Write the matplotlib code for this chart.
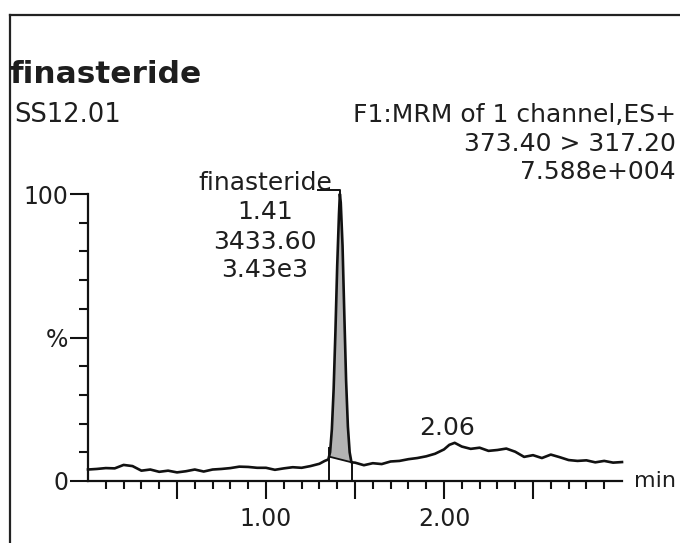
import numpy as np
import matplotlib
matplotlib.use("Agg")
import matplotlib.pyplot as plt
from matplotlib.lines import Line2D
from matplotlib.ticker import FixedLocator

plt.rcParams['font.family'] = ['DejaVu Sans']

# chromatogram trace (time in min, relative intensity in %)
times = [0.00, 0.05, 0.10, 0.15, 0.20, 0.25, 0.30, 0.35, 0.40, 0.45,
         0.50, 0.55, 0.60, 0.65, 0.70, 0.75, 0.80, 0.85, 0.90, 0.95,
         1.00, 1.05, 1.10, 1.15, 1.20, 1.25, 1.30, 1.33, 1.35,
         1.36, 1.37, 1.38, 1.39, 1.40, 1.41, 1.415, 1.42, 1.43, 1.44,
         1.45, 1.46, 1.47, 1.48,
         1.50, 1.55, 1.60, 1.65, 1.70, 1.75, 1.80, 1.85, 1.90, 1.95,
         2.00, 2.03, 2.06, 2.10, 2.15, 2.20, 2.25, 2.30, 2.35, 2.40,
         2.45, 2.50, 2.55, 2.60, 2.65, 2.70, 2.75, 2.80, 2.85, 2.90,
         2.95, 3.00]
intensity = [4.0, 4.2, 4.5, 4.4, 5.6, 5.2, 3.6, 4.0, 3.2, 3.6,
             3.0, 3.4, 4.0, 3.3, 4.0, 4.2, 4.5, 5.0, 4.9, 4.6,
             4.6, 3.9, 4.4, 4.8, 4.6, 5.2, 6.0, 7.0, 7.5,
             10.0, 18.0, 32.0, 52.0, 75.0, 93.0, 100.0, 97.0, 82.0, 58.0,
             35.0, 19.0, 10.0, 6.5,
             6.4, 5.5, 6.2, 5.9, 6.8, 7.0, 7.6, 8.0, 8.6, 9.5,
             11.0, 12.6, 13.3, 12.0, 11.2, 11.6, 10.5, 10.8, 11.3, 10.2,
             8.4, 9.0, 8.0, 9.2, 8.3, 7.3, 7.0, 7.2, 6.5, 7.0,
             6.4, 6.6]

peak_name = "finasteride"
peak_rt = 1.41
peak_area = "3433.60"
peak_height = "3.43e3"
peak_start = 1.354
peak_end = 1.483
peak_apex = 1.415
second_rt = 2.06
second_rt_y = 13.3

header_left = ["finasteride", "SS12.01"]
header_right = ["F1:MRM of 1 channel,ES+", "373.40 > 317.20", "7.588e+004"]

W, H = 680, 543
fig = plt.figure(figsize=(W / 100, H / 100), dpi=100)
fig.patch.set_facecolor('white')

def fx(px):
    return px / W

def fy(py):
    return 1 - py / H

txt = '#1e1e1e'

# frame around the panel (only top and left edges are in the crop)
fig.add_artist(Line2D([fx(10), fx(W)], [fy(15), fy(15)], color='#222222', lw=1.6))
fig.add_artist(Line2D([fx(10), fx(10)], [fy(15), fy(H)], color='#222222', lw=1.6))

# header texts, the right block is right aligned near the edge
fig.text(fx(9), fy(83), header_left[0], fontsize=22.5, fontweight='bold', color=txt,
         ha='left', va='baseline')
fig.text(fx(14), fy(122), header_left[1], fontsize=18.5, color=txt, ha='left', va='baseline')
fig.text(fx(676), fy(122), header_right[0], fontsize=18, color=txt, ha='right', va='baseline')
fig.text(fx(676), fy(151), header_right[1], fontsize=18, color=txt, ha='right', va='baseline')
fig.text(fx(676), fy(179), header_right[2], fontsize=18, color=txt, ha='right', va='baseline')

ax = fig.add_axes([fx(88), fy(481), fx(622) - fx(88), (481 - 194) / H])
ax.set_xlim(0, 3.0)
ax.set_ylim(0, 100)
for s in ['top', 'right']:
    ax.spines[s].set_visible(False)
for s in ['left', 'bottom']:
    ax.spines[s].set_linewidth(1.6)
    ax.spines[s].set_color('#111111')

t = np.array(times)
y = np.array(intensity)

# integrated peak
b1 = np.interp(peak_start, t, y)
b2 = np.interp(peak_end, t, y)
mask = (t > peak_start) & (t < peak_end)
tp = np.concatenate([[peak_start], t[mask], [peak_end]])
yp = np.concatenate([[b1], y[mask], [b2]])
base = b1 + (tp - peak_start) * (b2 - b1) / (peak_end - peak_start)
ax.fill_between(tp, base, yp, color='#b4b4b4', lw=0, clip_on=False)
ax.plot([peak_start, peak_end], [b1, b2], color='#111111', lw=1.3)
ax.plot([peak_start, peak_start], [0, b1 + 3], color='#111111', lw=1.4)
ax.plot([peak_end, peak_end], [0, b2], color='#111111', lw=1.4)

ax.plot(t, y, color='#111111', lw=1.9, clip_on=False)

# peak annotation with bracket
ax.plot([1.29, peak_apex, peak_apex], [101.4, 101.4, 100], color='#111111', lw=1.4,
        clip_on=False)
lab_x = 0.994
for text, yy in [(peak_name, 103.8), (f"{peak_rt:.2f}", 93.7), (peak_area, 83.3),
                 (peak_height, 73.5)]:
    ax.text(lab_x, yy, text, fontsize=18, color=txt, ha='center', va='center',
            clip_on=False)
ax.text(2.02, second_rt_y + 5.2, f"{second_rt:.2f}", fontsize=18, color=txt,
        ha='center', va='center')

# x axis ticks
ax.xaxis.set_major_locator(FixedLocator([0.5, 1.0, 1.5, 2.0, 2.5]))
ax.xaxis.set_minor_locator(FixedLocator([i / 10 for i in range(1, 30) if i % 5 != 0]))
ax.set_xticklabels(["", "1.00", "", "2.00", ""])
ax.tick_params(axis='x', which='major', direction='out', length=13, width=1.5,
               labelsize=17, pad=6, colors='#111111', labelcolor=txt)
ax.tick_params(axis='x', which='minor', direction='out', length=6, width=1.5,
               colors='#111111')

# y axis ticks
ax.yaxis.set_major_locator(FixedLocator([0, 50, 100]))
ax.yaxis.set_minor_locator(FixedLocator([10, 20, 30, 40, 60, 70, 80, 90]))
ax.set_yticklabels(["0", "%", "100"])
ax.tick_params(axis='y', which='major', direction='out', length=13, width=1.5,
               labelsize=17, pad=1, colors='#111111', labelcolor=txt)
ax.tick_params(axis='y', which='minor', direction='out', length=6.5, width=1.5,
               colors='#111111')

ax.text(3.07, 0, "min", fontsize=16, color=txt, ha='left', va='center', clip_on=False)

fig.savefig("out.png", dpi=100, facecolor='white')
